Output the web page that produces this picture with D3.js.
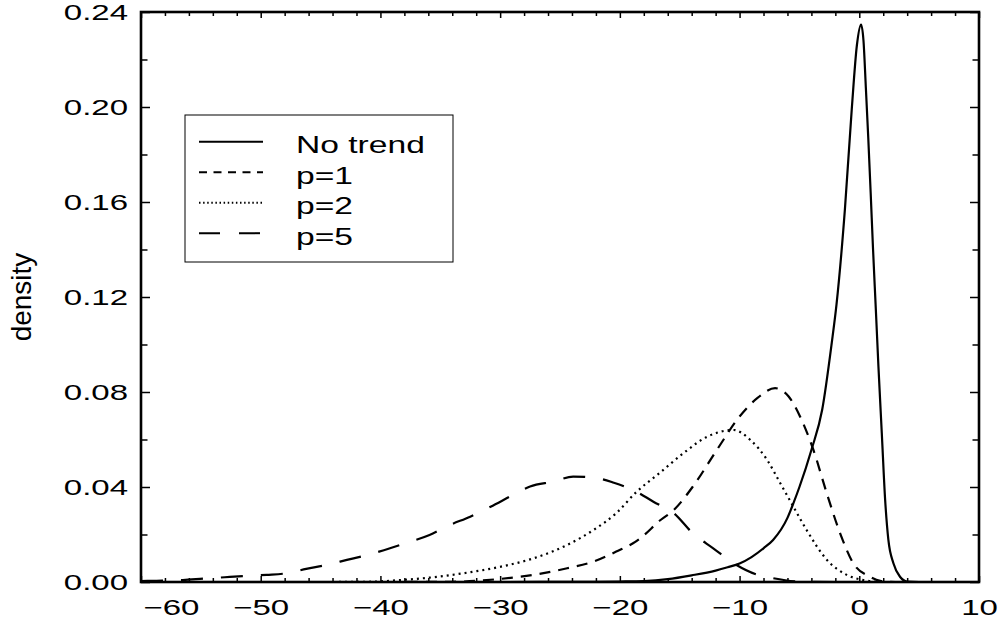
<!DOCTYPE html>
<html>
<head>
<meta charset="utf-8">
<script src="https://cdn.jsdelivr.net/npm/d3@7"></script>
<style>
  body { margin: 0; background: #fff; }
  text { font-family: "Liberation Sans", Arial, sans-serif; fill: #000; }
</style>
</head>
<body>
<svg id="chart" width="998" height="625"></svg>
<script>
// series names, in legend order
const seriesNames = ["No trend", "p=1", "p=2", "p=5"];

// tick values
const xTickValues = d3.range(-60, 11, 2);
const xTickLabels = [-60, -50, -40, -30, -20, -10, 0, 10];
const yTickValues = d3.range(0, 0.2401, 0.02);
const yTickLabels = [0, 0.04, 0.08, 0.12, 0.16, 0.20, 0.24];

// No trend (solid)
const noTrendX = [-60, -30, -22, -20, -18, -16, -14, -12, -11, -10, -9, -8, -7.2, -6, -5.5, -5, -4, -3.1, -2.3, -1.9, -1.2, -0.63, -0.2, 0.15, 0.35, 0.55, 0.75, 0.95, 1.15, 1.38, 1.6, 1.88, 2.16, 2.43, 2.85, 3.4, 4, 5, 10];
const noTrendY = [0, 0, 0.0001, 0.0002, 0.0004, 0.0012, 0.0028, 0.0048, 0.0062, 0.0078, 0.0105, 0.0142, 0.0177, 0.027, 0.0332, 0.04, 0.0556, 0.0725, 0.1007, 0.117, 0.157, 0.199, 0.226, 0.2347, 0.228, 0.208, 0.187, 0.164, 0.14, 0.115, 0.0907, 0.0627, 0.0346, 0.0177, 0.0079, 0.0022, 0.0002, 0, 0];

// p=1 (short dashes)
const p1X = [-60, -40, -34, -30, -27.2, -24.4, -22.2, -20.3, -18.9, -18.3, -16.6, -15.5, -13.9, -11.9, -10, -8.5, -7.03, -5.9, -4.95, -3.83, -2.72, -1.6, -0.5, 0.9, 1.75, 3, 10];
const p1Y = [0, 0, 0.0001, 0.0013, 0.003, 0.0058, 0.0086, 0.0128, 0.0163, 0.0184, 0.0261, 0.0303, 0.0402, 0.0556, 0.0697, 0.0775, 0.0816, 0.0781, 0.0697, 0.0556, 0.0374, 0.0205, 0.0079, 0.0022, 0.0005, 0, 0];

// p=2 (dotted)
const p2X = [-60, -45, -41, -38.4, -35.6, -32.8, -30, -27.2, -24.4, -22.2, -20.3, -18.6, -16.7, -14.7, -12.7, -10.5, -9.1, -7.7, -6.6, -5.5, -4.4, -2.7, -1.05, 0.35, 2, 10];
const p2Y = [0, 0, 0.0001, 0.0008, 0.002, 0.0039, 0.0064, 0.01, 0.0156, 0.0219, 0.029, 0.038, 0.0458, 0.0542, 0.0612, 0.064, 0.0598, 0.0514, 0.0416, 0.0317, 0.0219, 0.0093, 0.003, 0.0008, 0, 0];

// p=5 (long dashes)
const p5X = [-60, -58.7, -56.5, -54.8, -53, -51.5, -49.5, -47.8, -46.2, -44.5, -42.8, -41.1, -39.2, -37.8, -35.9, -34.2, -32.5, -30.8, -28.9, -27.5, -25.5, -23.9, -22.2, -20.5, -18.6, -17.2, -15.5, -13.9, -12.2, -10.5, -8.6, -7.2, -4.7, -2, 10];
const p5Y = [0.0004, 0.0005, 0.0008, 0.0014, 0.002, 0.0025, 0.003, 0.0037, 0.0055, 0.0072, 0.0093, 0.0114, 0.0142, 0.0165, 0.0198, 0.024, 0.0275, 0.0317, 0.0367, 0.0402, 0.0423, 0.0444, 0.044, 0.0418, 0.038, 0.0338, 0.029, 0.0205, 0.0142, 0.0079, 0.0032, 0.0016, 0.0001, 0, 0];

const svg = d3.select("#chart");
const margin = { left: 141, right: 19, top: 12, bottom: 43 };
const width = 998 - margin.left - margin.right;
const height = 625 - margin.top - margin.bottom;

const x = d3.scaleLinear().domain([-60, 10]).range([0, width]);
const y = d3.scaleLinear().domain([0, 0.24]).range([height, 0]);

const g = svg.append("g").attr("transform", `translate(${margin.left},${margin.top})`);

// glyphs of the original font are wide, so stretch labels horizontally
const stretch = 1.5;
const isMajorX = (d) => xTickLabels.includes(d);
const isMajorY = (d) => yTickLabels.some((v) => Math.abs(v - d) < 1e-9);

// bottom axis
const xAxis = g.append("g")
  .attr("transform", `translate(0,${height})`)
  .call(d3.axisBottom(x).tickValues(xTickValues).tickSize(0).tickFormat((d) => (isMajorX(d) ? d3.format("d")(d) : "")));
xAxis.select(".domain").remove();
xAxis.selectAll(".tick line").attr("y2", (d) => (isMajorX(d) ? -6 : -4)).attr("stroke-width", 1.5);
xAxis.selectAll(".tick text")
  .attr("font-size", 22)
  .attr("dy", null)
  .attr("y", 33)
  .attr("transform", `scale(${stretch},1)`)
  .attr("text-anchor", (d) => (d === -60 ? "start" : "middle"))
  .attr("x", (d) => (d === -60 ? 2 / stretch : 0));

// top axis ticks
const xTop = g.append("g")
  .call(d3.axisTop(x).tickValues(xTickValues).tickSize(0).tickFormat(""));
xTop.select(".domain").remove();
xTop.selectAll(".tick line").attr("y2", (d) => (isMajorX(d) ? 6 : 4)).attr("stroke-width", 1.5);

// left axis
const yAxis = g.append("g")
  .call(d3.axisLeft(y).tickValues(yTickValues).tickSize(0).tickFormat((d) => (isMajorY(d) ? d3.format(".2f")(d) : "")));
yAxis.select(".domain").remove();
yAxis.selectAll(".tick line").attr("x2", (d) => (isMajorY(d) ? 9 : 6.5)).attr("stroke-width", 1.5);
yAxis.selectAll(".tick text")
  .attr("font-size", 22)
  .attr("dy", null)
  .attr("y", 7.5)
  .attr("x", -13 / stretch)
  .attr("transform", `scale(${stretch},1)`);

// right axis ticks
const yRight = g.append("g")
  .attr("transform", `translate(${width},0)`)
  .call(d3.axisRight(y).tickValues(yTickValues).tickSize(0).tickFormat(""));
yRight.select(".domain").remove();
yRight.selectAll(".tick line").attr("x2", (d) => (isMajorY(d) ? -9 : -6.5)).attr("stroke-width", 1.5);

// frame
g.append("rect")
  .attr("width", width)
  .attr("height", height)
  .attr("fill", "none")
  .attr("stroke", "#000")
  .attr("stroke-width", 2.6);

// y label
svg.append("text")
  .attr("transform", `translate(31,${margin.top + height / 2}) rotate(-90)`)
  .attr("text-anchor", "middle")
  .attr("font-size", 28)
  .text("density");

// curves
const series = [
  { name: seriesNames[0], xs: noTrendX, ys: noTrendY, dash: null, legendDash: null },
  { name: seriesNames[1], xs: p1X, ys: p1Y, dash: "11,8", legendDash: "8,6.5" },
  { name: seriesNames[2], xs: p2X, ys: p2Y, dash: "2,4", legendDash: "1.5,2.6" },
  { name: seriesNames[3], xs: p5X, ys: p5Y, dash: "22,18", legendDash: "21,19" }
];

const line = d3.line()
  .x((d) => x(d[0]))
  .y((d) => y(d[1]))
  .curve(d3.curveMonotoneX);

g.selectAll(".curve")
  .data(series)
  .enter()
  .append("path")
  .attr("class", "curve")
  .attr("d", (s) => line(s.xs.map((v, i) => [v, s.ys[i]])))
  .attr("fill", "none")
  .attr("stroke", "#000")
  .attr("stroke-width", 2.2)
  .attr("stroke-dasharray", (s) => s.dash);

// legend
const legend = svg.append("g").attr("transform", "translate(185,115)");
legend.append("rect")
  .attr("width", 268)
  .attr("height", 147)
  .attr("fill", "#fff")
  .attr("stroke", "#000")
  .attr("stroke-width", 1);

const items = legend.selectAll(".item")
  .data(series)
  .enter()
  .append("g")
  .attr("class", "item")
  .attr("transform", (s, i) => `translate(0,${26.7 + i * 30.5})`);

items.append("line")
  .attr("x1", 14)
  .attr("x2", 78)
  .attr("stroke", "#000")
  .attr("stroke-width", 2)
  .attr("stroke-dasharray", (s) => s.legendDash);

items.append("text")
  .attr("transform", `translate(111,11.5) scale(1.4,1)`)
  .attr("font-size", 24)
  .text((s) => s.name);
</script>
</body>
</html>
